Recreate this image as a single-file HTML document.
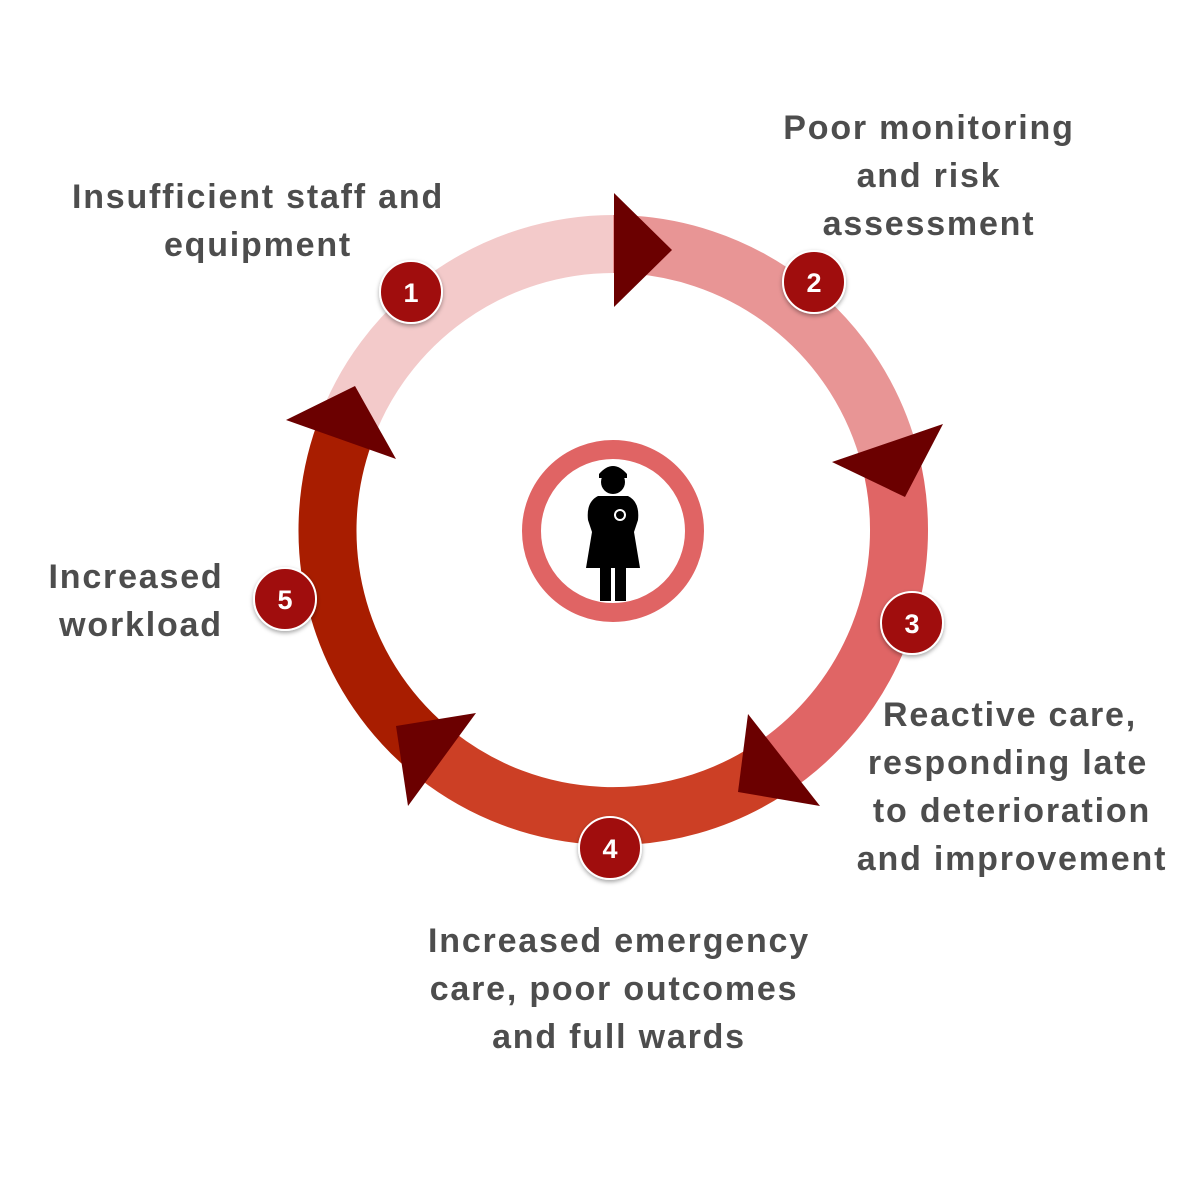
<!DOCTYPE html>
<html><head><meta charset="utf-8"><style>
html,body{margin:0;padding:0;background:#fff;}
svg{display:block}
text{font-family:"Liberation Sans",sans-serif;font-weight:bold;font-size:34px;letter-spacing:1.8px;fill:#4d4d4d;text-anchor:middle}
.n{fill:#fff;font-size:27px;letter-spacing:0}
</style></head><body>
<svg width="1200" height="1200" viewBox="0 0 1200 1200">
<defs><filter id="sh" x="-30%" y="-30%" width="160%" height="160%"><feDropShadow dx="0" dy="2" stdDeviation="2" flood-color="#000" flood-opacity="0.35"/></filter></defs>
<g fill="none" stroke-width="58">
<path d="M344.2 434.2 A286 286 0 0 1 613 244" stroke="#f3caca"/>
<path d="M613 244 A286 286 0 0 1 890.5 460.8" stroke="#e89595"/>
<path d="M890.5 460.8 A286 286 0 0 1 768.8 769.9" stroke="#e06565"/>
<path d="M768.8 769.9 A286 286 0 0 1 436.8 755.4" stroke="#cc3f25"/>
<path d="M436.8 755.4 A286 286 0 0 1 344.2 434.2" stroke="#a81d00"/>
</g>
<g fill="#6b0000">
<polygon points="614,193 614,307 672,250"/>
<polygon points="832,462 943,424 905,497"/>
<polygon points="748,714 738,792 820,806"/>
<polygon points="396,726 476,713 408,806"/>
<polygon points="286,420 355,386 396,459"/>
</g>
<g filter="url(#sh)" fill="#a00808" stroke="#fff" stroke-width="2">
<circle cx="411" cy="292" r="31"/>
<circle cx="814" cy="282" r="31"/>
<circle cx="912" cy="623" r="31"/>
<circle cx="610" cy="848" r="31"/>
<circle cx="285" cy="599" r="31"/>
</g>
<text class="n" x="411" y="302">1</text>
<text class="n" x="814" y="292">2</text>
<text class="n" x="912" y="633">3</text>
<text class="n" x="610" y="858">4</text>
<text class="n" x="285" y="609">5</text>
<circle cx="613" cy="531" r="81.5" fill="none" stroke="#e06464" stroke-width="19"/>
<g fill="#000">
<path d="M599 474 Q613 458 627 474 L627 478 L599 478 Z"/>
<circle cx="613" cy="482" r="12"/>
<path d="M598 496 L628 496 Q640 502 638 520 L634 532 L640 568 L586 568 L592 532 L588 520 Q586 502 598 496 Z"/>
<rect x="600" y="568" width="11" height="33"/>
<rect x="615" y="568" width="11" height="33"/>
</g>
<circle cx="620" cy="515" r="6" fill="#fff"/>
<circle cx="620" cy="515" r="4" fill="#000"/>
<text x="258" y="208">Insufficient staff and</text>
<text x="258" y="256">equipment</text>
<text x="929" y="139">Poor monitoring</text>
<text x="929" y="187">and risk</text>
<text x="929" y="235">assessment</text>
<text x="1010" y="726">Reactive care,</text>
<text x="1008" y="774">responding late</text>
<text x="1012" y="822">to deterioration</text>
<text x="1012" y="870">and improvement</text>
<text x="619" y="952">Increased emergency</text>
<text x="614" y="1000">care, poor outcomes</text>
<text x="619" y="1048">and full wards</text>
<text x="136" y="588">Increased</text>
<text x="141" y="636">workload</text>
</svg>
</body></html>
